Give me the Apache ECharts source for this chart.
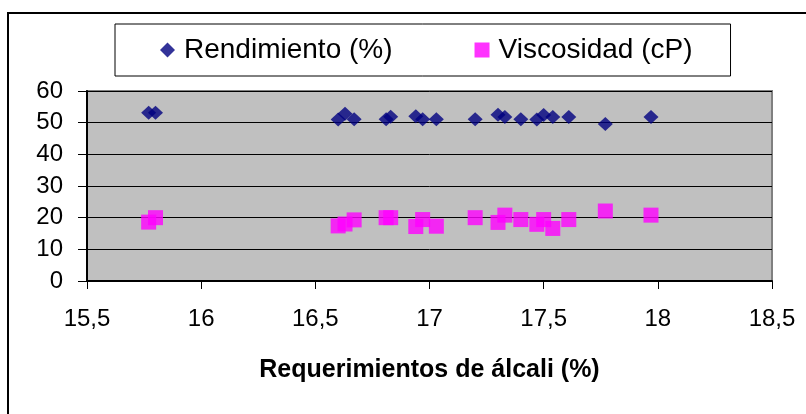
<!DOCTYPE html>
<html>
<head>
<meta charset="utf-8">
<script src="https://cdn.jsdelivr.net/npm/echarts@6/dist/echarts.min.js"></script>
<style>
    html, body { margin: 0; padding: 0; background: #fff; }
    #chart { width: 806px; height: 414px; }
</style>
</head>
<body>
<div id="chart"></div>
<script>
// datos
var alcali = [15.77, 15.80, 16.60, 16.63, 16.67, 16.81, 16.83, 16.94, 16.97, 17.03,
    17.20, 17.30, 17.33, 17.40, 17.47, 17.50, 17.54, 17.61, 17.77, 17.97];
var rendimiento = [53.1, 53.1, 51.0, 52.8, 51.1, 51.1, 51.9, 52.0, 51.1, 51.1,
    51.1, 52.5, 51.8, 51.1, 51.0, 52.4, 51.8, 51.8, 49.6, 51.8];
var viscosidad = [18.6, 20.0, 17.4, 18.0, 19.3, 20.0, 20.0, 17.2, 19.4, 17.3,
    20.0, 18.5, 20.8, 19.4, 17.9, 19.4, 16.6, 19.4, 22.1, 20.8];
var xTicks = [15.5, 16, 16.5, 17, 17.5, 18, 18.5];
var yTicks = [0, 10, 20, 30, 40, 50, 60];

var fuente = "'Liberation Sans', Arial, sans-serif";

function pares(xs, ys) {
    var out = [];
    for (var i = 0; i < xs.length; i++) {
        out.push([xs[i], ys[i]]);
    }
    return out;
}

var chart = echarts.init(document.getElementById('chart'));
chart.setOption({
    animation: false,
    graphic: [
        {
            type: 'rect',
            shape: { x: 8, y: 13, width: 900, height: 500 },
            style: { fill: 'none', stroke: '#000', lineWidth: 2 },
            silent: true
        }
    ],
    legend: {
        left: 115,
        top: 24,
        padding: [12, 38, 12, 45],
        borderColor: '#000',
        borderWidth: 1,
        itemGap: 82,
        itemWidth: 15,
        itemHeight: 15,
        textStyle: {
            fontSize: 28,
            color: '#000',
            fontFamily: fuente,
            padding: [0, 0, 0, 4]
        },
        data: [
            { name: 'Rendimiento (%)', icon: 'diamond' },
            { name: 'Viscosidad (cP)', icon: 'rect' }
        ]
    },
    grid: {
        left: 87,
        right: 34,
        top: 91,
        bottom: 133,
        show: true,
        backgroundColor: '#C0C0C0',
        borderColor: '#808080',
        borderWidth: 2
    },
    xAxis: {
        type: 'value',
        min: xTicks[0],
        max: xTicks[xTicks.length - 1],
        interval: 0.5,
        name: 'Requerimientos de álcali (%)',
        nameLocation: 'middle',
        nameGap: 77,
        nameTextStyle: {
            fontSize: 25,
            fontWeight: 'bold',
            color: '#000',
            fontFamily: fuente
        },
        axisLine: { onZero: false, lineStyle: { color: '#000', width: 2 } },
        axisTick: { length: 8, lineStyle: { color: '#000' } },
        splitLine: { show: false },
        axisLabel: {
            fontSize: 24,
            color: '#000',
            fontFamily: fuente,
            margin: 26,
            formatter: function (v) {
                return String(v).replace('.', ',');
            }
        }
    },
    yAxis: {
        type: 'value',
        min: yTicks[0],
        max: yTicks[yTicks.length - 1],
        interval: 10,
        axisLine: { show: true, lineStyle: { color: '#000', width: 2 } },
        axisTick: { show: true, length: 9, lineStyle: { color: '#000' } },
        splitLine: { lineStyle: { color: '#000', width: 1 } },
        axisLabel: {
            fontSize: 24,
            color: '#000',
            fontFamily: fuente,
            margin: 24
        }
    },
    series: [
        {
            name: 'Rendimiento (%)',
            type: 'scatter',
            symbol: 'diamond',
            symbolSize: [15, 14],
            itemStyle: { color: '#000080' },
            data: pares(alcali, rendimiento)
        },
        {
            name: 'Viscosidad (cP)',
            type: 'scatter',
            symbol: 'rect',
            symbolSize: 15,
            itemStyle: { color: '#FF00FF' },
            data: pares(alcali, viscosidad)
        }
    ]
});

window.addEventListener('resize', function () {
    chart.resize();
});
</script>
</body>
</html>
